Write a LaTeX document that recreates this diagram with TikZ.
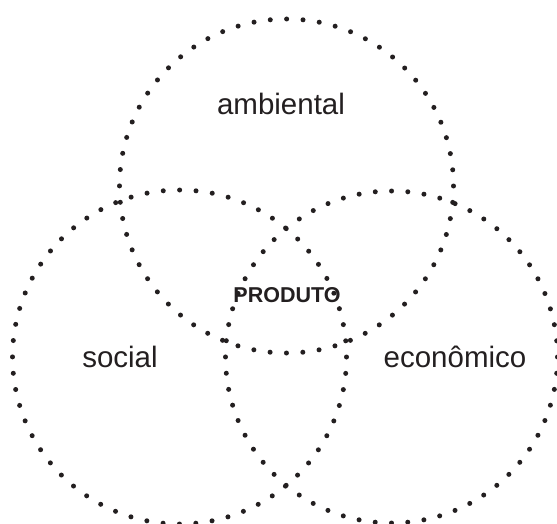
\documentclass[tikz,border=0pt]{standalone}
\usepackage{fontspec}
\setmainfont{Liberation Sans}
\definecolor{ink}{HTML}{231F20}
\begin{document}
\begin{tikzpicture}[x=1pt,y=-1pt,
  dotring/.style={draw=ink, line width=5pt, line cap=round, dash pattern=on 0pt off #1},
  lbl/.style={text=ink, font=\fontsize{29.5}{32}\selectfont, inner sep=0pt},
  core/.style={text=ink, font=\bfseries\fontsize{21.5}{24}\selectfont, inner sep=0pt}]
\useasboundingbox (0,0) rectangle (557,524);
\path[dotring=16.4pt] (286.5,186) circle[radius=167];
\path[dotring=16.4pt] (179.5,357) circle[radius=167];
\path[dotring=16.3pt] (391.5,357) circle[radius=166];
\node[lbl] (amb) at (281,104) {ambiental};
\node[lbl] (soc) at (120,357) {social};
\node[lbl] (eco) at (455,357) {econômico};
\node[core] (prod) at (287,295) {PRODUTO};
\end{tikzpicture}
\end{document}
